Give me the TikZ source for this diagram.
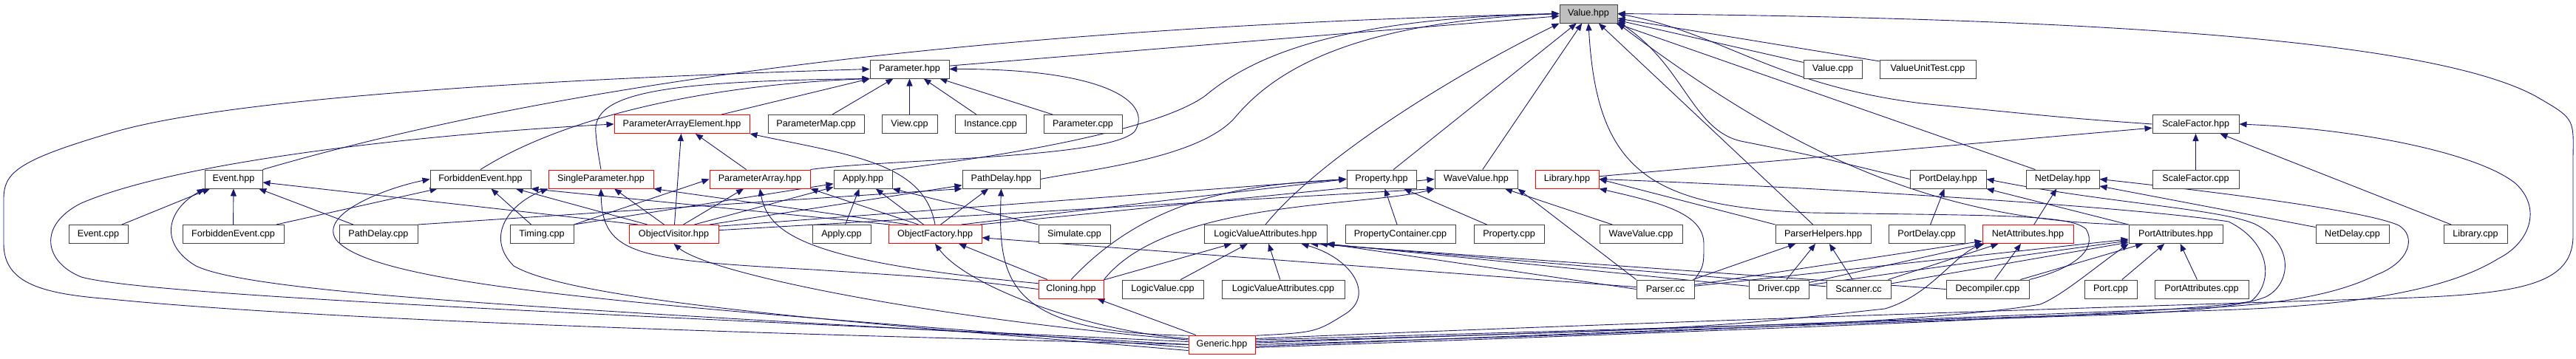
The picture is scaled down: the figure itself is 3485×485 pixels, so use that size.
\documentclass[tikz,border=0pt]{standalone}
\usepackage{fontspec}
\setmainfont{Liberation Sans}
\usetikzlibrary{arrows.meta,backgrounds}
\definecolor{incl}{RGB}{25,25,112}
\definecolor{boxgray}{RGB}{64,64,64}

\begin{document}
\begin{tikzpicture}[x=1pt, y=-1pt,
  fb/.style={draw=boxgray, line width=1pt, fill=white, minimum width=#1,
             minimum height=25pt, inner sep=0pt, font=\fontsize{12.6}{15}\selectfont},
  fr/.style={fb=#1, draw=red},
  ar/.style={{Triangle[length=10pt,width=8pt]}-, draw=incl, line width=0.9pt},
]
\useasboundingbox (0,0) rectangle (3485,485);

% row 0
\node[fb=78pt, fill=black!25] (V) at (2149,18.5) {Value.hpp};
% row 1
\node[fb=107pt] (P)   at (1230.5,93.5) {Parameter.hpp};
\node[fb=79pt]  (VC)  at (2479.5,93.5) {Value.cpp};
\node[fb=130pt] (VUT) at (2608,93.5)   {ValueUnitTest.cpp};
% row 2
\node[fr=183pt] (PAE)   at (922.5,168)  {ParameterArrayElement.hpp};
\node[fb=130pt] (PMc)   at (1104,168)   {ParameterMap.cpp};
\node[fb=75pt]  (ViewC) at (1230.5,168) {View.cpp};
\node[fb=96pt]  (InstC) at (1340,168)   {Instance.cpp};
\node[fb=106pt] (ParC)  at (1465,168)   {Parameter.cpp};
\node[fb=117pt] (SFh)   at (2970.5,168) {ScaleFactor.hpp};
% row 3
\node[fb=78pt]  (Eh)   at (316,242.5)    {Event.hpp};
\node[fb=136pt] (FEh)  at (650,242.5)    {ForbiddenEvent.hpp};
\node[fr=142pt] (SPh)  at (813,242.5)    {SingleParameter.hpp};
\node[fr=136pt] (PAh)  at (1028,242.5)   {ParameterArray.hpp};
\node[fb=79pt]  (APh)  at (1167.5,242.5) {Apply.hpp};
\node[fb=105pt] (PDh)  at (1354.5,242.5) {PathDelay.hpp};
\node[fb=94pt]  (PRh)  at (1869,242.5)   {Property.hpp};
\node[fb=112pt] (WVh)  at (1997,242.5)   {WaveValue.hpp};
\node[fr=86pt]  (LBh)  at (2120,242.5)   {Library.hpp};
\node[fb=103pt] (PTDh) at (2635.5,242.5) {PortDelay.hpp};
\node[fb=99pt]  (NDh)  at (2790.5,242.5) {NetDelay.hpp};
\node[fb=117pt] (SFc)  at (2970.5,242.5) {ScaleFactor.cpp};
% row 4
\node[fb=80pt]  (Ec)   at (133,317)    {Event.cpp};
\node[fb=137pt] (FEc)  at (315.5,317)  {ForbiddenEvent.cpp};
\node[fb=106pt] (PDc)  at (512,317)    {PathDelay.cpp};
\node[fb=86pt]  (TMc)  at (733,317)    {Timing.cpp};
\node[fr=121pt] (OV)   at (911.5,317)  {ObjectVisitor.hpp};
\node[fb=79pt]  (APc)  at (1138.5,317) {Apply.cpp};
\node[fr=126pt] (OF)   at (1265,317)   {ObjectFactory.hpp};
\node[fb=97pt]  (SIMc) at (1453.5,317) {Simulate.cpp};
\node[fb=166pt] (LVAh) at (1712,317)   {LogicValueAttributes.hpp};
\node[fb=149pt] (PCc)  at (1894.5,317) {PropertyContainer.cpp};
\node[fb=95pt]  (PRc)  at (2041.5,317) {Property.cpp};
\node[fb=112pt] (WVc)  at (2220,317)   {WaveValue.cpp};
\node[fb=129pt] (PHh)  at (2466.5,317) {ParserHelpers.hpp};
\node[fb=103pt] (PTDc) at (2606.5,317) {PortDelay.cpp};
\node[fr=123pt] (NAh)  at (2743.5,317) {NetAttributes.hpp};
\node[fb=127pt] (PAAh) at (2943.5,317) {PortAttributes.hpp};
\node[fb=99pt]  (NDc)  at (3182.5,317) {NetDelay.cpp};
\node[fb=86pt]  (LBc)  at (3349,317)   {Library.cpp};
% row 5
\node[fr=88pt]  (CL)   at (1449,391.5)   {Cloning.hpp};
\node[fb=110pt] (LVc)  at (1573,391.5)   {LogicValue.cpp};
\node[fb=166pt] (LVAc) at (1736,391.5)   {LogicValueAttributes.cpp};
\node[fb=78pt]  (PSc)  at (2253,391.5)   {Parser.cc};
\node[fb=81pt]  (DRc)  at (2406.5,391.5) {Driver.cpp};
\node[fb=87pt]  (SCc)  at (2514.5,391.5) {Scanner.cc};
\node[fb=112pt] (DCc)  at (2689,391.5)   {Decompiler.cpp};
\node[fb=71pt]  (PTc)  at (2855.5,391.5) {Port.cpp};
\node[fb=127pt] (PAAc) at (2978.5,391.5) {PortAttributes.cpp};
% row 6
\node[fr=90pt]  (GN)   at (1653,466.5)   {Generic.hpp};

\begin{scope}[on background layer]
% Value.hpp
\draw[ar] (V.west) .. controls (1400,35) and (800,100) .. (Eh.north east);
\draw[ar] (V) -- (P);
\draw[ar] (V.west) .. controls (1800,25) and (1690,80) .. (1630,130)
          .. controls (1560,180) and (1330,215) .. (APh.north east);
\draw[ar] (V.west) .. controls (1820,30) and (1720,100) .. (1670,160)
          .. controls (1620,215) and (1470,230) .. (PDh.east);
\draw[ar] (V.south west) .. controls (1950,110) and (1780,220) .. (LVAh.north);
\draw[ar] (V) -- (PRh);
\draw[ar] (V) -- (WVh);
\draw[ar] (V) -- (PHh);
\draw[ar] (V) -- (VC);
\draw[ar] (V) -- (VUT);
\draw[ar] (V) -- (NDh);
\draw[ar] (V.east) .. controls (2330,45) and (2400,115) .. (2600,140)
          .. controls (2800,160) .. (SFh.west);
\draw[ar] (V.-15) .. controls (2280,90) and (2290,180) .. (2360,192)
          .. controls (2450,210) .. (PTDh.west);
\draw[ar] (V.south east) .. controls (2400,190) and (2600,300) .. (PAAh.north west);
\draw[ar] (V.south) .. controls (2160,230) and (2230,280) .. (2450,288)
          .. controls (2700,292) and (2800,290) .. (2822,310)
          .. controls (2840,340) and (2800,365) .. (DCc.north east);
\draw[ar] (V.east) .. controls (2900,25) and (3300,60) .. (3430,130)
          .. controls (3482,160) .. (3481,210) -- (3481,320)
          .. controls (3480,390) and (3400,400) .. (3200,405)
          .. controls (2700,420) and (2000,445) .. (GN.10);
% Parameter.hpp
\draw[ar] (P) -- (PAE);
\draw[ar] (P) -- (PMc);
\draw[ar] (P) -- (ViewC);
\draw[ar] (P) -- (InstC);
\draw[ar] (P) -- (ParC);
\draw[ar] (P.south west) .. controls (950,115) and (760,160) .. (FEh.north);
\draw[ar] (P.south west) .. controls (900,110) and (800,125) .. (806,180)
          .. controls (808,200) .. (SPh.north);
\draw[ar] (P.east) .. controls (1500,93) and (1560,140) .. (1535,178)
          .. controls (1500,215) and (1200,215) .. (PAh.north east);
\draw[ar] (P.west) .. controls (700,108) and (300,135) .. (150,180)
          .. controls (20,218) and (5,235) .. (5,270) -- (5,330)
          .. controls (5,385) and (60,398) .. (150,405)
          .. controls (500,440) and (1300,458) .. (GN.west);
% ParameterArrayElement.hpp
\draw[ar] (PAE) -- (PAh);
\draw[ar] (PAE) -- (OV);
\draw[ar] (PAE.south east) .. controls (1150,210) and (1250,220) .. (OF.north);
\draw[ar] (PAE.west) .. controls (600,180) and (250,215) .. (110,275)
          .. controls (50,305) and (60,355) .. (110,375)
          .. controls (200,400) and (800,425) .. (GN.175);
% ScaleFactor.hpp
\draw[ar] (SFh) -- (SFc);
\draw[ar] (SFh) -- (LBh);
\draw[ar] (SFh) -- (LBc);
\draw[ar] (SFh.east) .. controls (3200,175) and (3360,210) .. (3405,250)
          .. controls (3440,285) and (3420,330) .. (3380,350)
          .. controls (3300,400) and (3150,415) .. (3000,420)
          .. controls (2400,440) .. (GN.8);
% Event.hpp
\draw[ar] (Eh) -- (Ec);
\draw[ar] (Eh) -- (FEc);
\draw[ar] (Eh) -- (PDc);
\draw[ar] (Eh) -- (OV.165);
\draw[ar] (Eh.south west) .. controls (225,285) and (215,330) .. (265,360)
          .. controls (350,400) and (800,420) .. (GN.180);
% ForbiddenEvent.hpp
\draw[ar] (FEh) -- (FEc);
\draw[ar] (FEh) -- (TMc);
\draw[ar] (FEh) -- (OV.160);
\draw[ar] (FEh.south east) -- (OF.168);
\draw[ar] (FEh.west) .. controls (520,255) and (430,290) .. (455,325)
          .. controls (510,390) and (900,415) .. (GN.185);
% SingleParameter.hpp
\draw[ar] (SPh) -- (OV.135);
\draw[ar] (SPh.south east) -- (OF.160);
\draw[ar] (SPh.south) .. controls (815,345) and (860,352) .. (1100,365)
          .. controls (1300,378) .. (CL.west);
\draw[ar] (SPh.south west) .. controls (690,275) and (655,320) .. (695,360)
          .. controls (780,410) and (1200,440) .. (GN.190);
% ParameterArray.hpp
\draw[ar] (PAh) -- (OV.45);
\draw[ar] (PAh.south east) -- (OF.150);
\draw[ar] (PAh.west) -- (TMc.north east);
\draw[ar] (PAh.south) .. controls (1040,320) and (1100,355) .. (CL.170);
% Apply.hpp
\draw[ar] (APh) -- (APc);
\draw[ar] (APh) -- (OV.25);
\draw[ar] (APh) -- (OF.140);
\draw[ar] (APh.south east) -- (SIMc.north west);
\draw[ar] (APh) -- (TMc.north east);
% PathDelay.hpp
\draw[ar] (PDh.south west) -- (PDc.north east);
\draw[ar] (PDh) -- (OV.15);
\draw[ar] (PDh) -- (OF.60);
\draw[ar] (PDh.south) .. controls (1350,380) and (1360,450) .. (GN.165);
% Property.hpp
\draw[ar] (PRh) -- (PCc);
\draw[ar] (PRh) -- (PRc);
\draw[ar] (PRh.west) -- (OV.10);
\draw[ar] (PRh.west) -- (OF.20);
\draw[ar] (PRh.west) .. controls (1700,250) and (1560,260) .. (CL.north);
% WaveValue.hpp
\draw[ar] (WVh) -- (WVc);
\draw[ar] (WVh.south west) -- (OV.5);
\draw[ar] (WVh.west) -- (OF.12);
\draw[ar] (WVh.south west) .. controls (1850,280) and (1580,270) .. (CL.north east);
\draw[ar] (WVh.south east) -- (PSc.north west);
% Library.hpp
\draw[ar] (LBh.south east) .. controls (2250,275) and (2305,290) .. (2305,330)
          .. controls (2305,360) .. (PSc.north east);
\draw[ar] (LBh.east) -- (PHh.north west);
\draw[ar] (LBh.east) .. controls (2500,255) and (2900,282) .. (3015,300)
          .. controls (3075,330) and (3075,385) .. (3045,408)
          .. controls (2950,425) and (2400,445) .. (GN.-5);
% PortDelay.hpp, NetDelay.hpp
\draw[ar] (PTDh) -- (PTDc);
\draw[ar] (PTDh.south east) -- (PAAh.north west);
\draw[ar] (PTDh.east) .. controls (2850,275) and (3000,282) .. (3050,303)
          .. controls (3105,330) and (3100,385) .. (3065,402)
          .. controls (3020,420) and (2900,425) .. (2800,428)
          .. controls (2300,445) .. (GN.-3);
\draw[ar] (NDh) -- (NAh);
\draw[ar] (NDh) -- (NDc);
\draw[ar] (NDh.east) .. controls (3000,260) and (3200,285) .. (3245,305)
          .. controls (3270,320) and (3260,355) .. (3215,372)
          .. controls (3150,405) and (3050,415) .. (2950,418)
          .. controls (2400,440) .. (GN.3);
% ObjectVisitor.hpp, ObjectFactory.hpp, Cloning.hpp
\draw[ar] (OV.south) .. controls (960,370) and (1250,430) .. (GN.172);
\draw[ar] (OF) -- (CL);
\draw[ar] (OF) -- (PSc);
\draw[ar] (OF.south) .. controls (1310,390) and (1480,450) .. (GN.170);
\draw[ar] (CL) -- (GN);
% LogicValueAttributes.hpp
\draw[ar] (LVAh) -- (CL);
\draw[ar] (LVAh) -- (LVc);
\draw[ar] (LVAh) -- (LVAc);
\draw[ar] (LVAh.south east) -- (PSc.west);
\draw[ar] (LVAh.-9) -- (DRc);
\draw[ar] (LVAh.-10) -- (SCc);
\draw[ar] (LVAh.-12) -- (DCc.west);
\draw[ar] (LVAh.-15) .. controls (1830,350) and (1860,400) .. (1820,425)
          .. controls (1780,450) .. (GN.15);
% ParserHelpers.hpp, NetAttributes.hpp, PortAttributes.hpp
\draw[ar] (PHh) -- (PSc);
\draw[ar] (PHh) -- (DRc);
\draw[ar] (PHh) -- (SCc);
\draw[ar] (NAh) -- (PSc);
\draw[ar] (NAh) -- (DRc);
\draw[ar] (NAh) -- (SCc);
\draw[ar] (NAh) -- (DCc);
\draw[ar] (NAh.south west) .. controls (2640,350) and (2610,400) .. (2550,418)
          .. controls (2300,445) .. (GN.5);
\draw[ar] (PAAh) -- (PSc);
\draw[ar] (PAAh) -- (DRc);
\draw[ar] (PAAh) -- (SCc);
\draw[ar] (PAAh) -- (DCc);
\draw[ar] (PAAh) -- (PTc);
\draw[ar] (PAAh) -- (PAAc);
\draw[ar] (PAAh.south west) .. controls (2830,365) and (2790,400) .. (2760,412)
          .. controls (2600,440) and (2100,455) .. (GN.0);
\end{scope}
\end{tikzpicture}
\end{document}
